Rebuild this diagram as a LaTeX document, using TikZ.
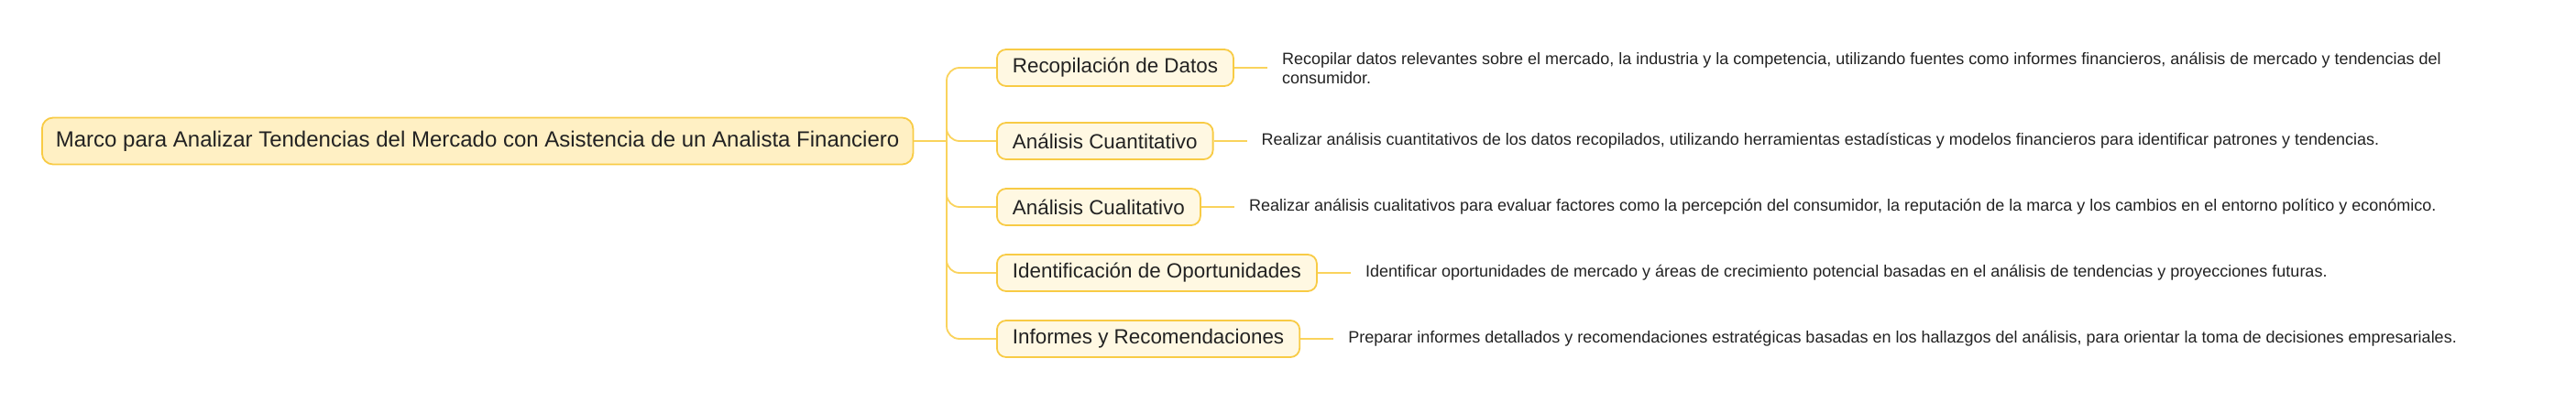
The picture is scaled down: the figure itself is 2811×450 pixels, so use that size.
\documentclass[tikz,border=0pt]{standalone}
\usepackage{fontspec}
\setmainfont{Liberation Sans}
\usetikzlibrary{positioning}

\definecolor{rootfill}{HTML}{FFF0C4}
\definecolor{rootline}{HTML}{F8CB45}
\definecolor{topicfill}{HTML}{FFF8E2}
\definecolor{linkcol}{HTML}{FAD35C}
\definecolor{ink}{HTML}{222222}

\begin{document}
\begin{tikzpicture}[x=1pt, y=-1pt,
    rootbox/.style={draw=rootline, fill=rootfill, rounded corners=12pt, line width=1.8pt,
      inner xsep=15pt, minimum height=51pt, text=ink, font=\fontsize{24}{28}\selectfont},
    topicbox/.style={draw=rootline, fill=topicfill, rounded corners=10pt, line width=1.8pt,
      inner xsep=17pt, minimum height=40pt, text=ink, font=\fontsize{22.4}{26}\selectfont},
    desc/.style={inner xsep=16pt, align=left, text=ink, font=\fontsize{18}{21}\selectfont},
    link/.style={draw=linkcol, line width=1.8pt, rounded corners=14pt}]
  \useasboundingbox (0,0) rectangle (2811,450);

  \def \topx {1087}  % left edge of the topics
  \def \gap {36}     % length of the short link to a description

  \node[rootbox, anchor=west] (root) at (45,154)
    {Marco para Analizar Tendencias del Mercado con Asistencia de un Analista Financiero};
  \coordinate (trunk) at (1033,154);
  \draw[link] (root.east) -- (trunk);

  \foreach \i/\y/\topic/\info in {
      1/74/{Recopilación de Datos}/{Recopilar datos relevantes sobre el mercado, la industria y la competencia, utilizando fuentes como informes financieros, análisis de mercado y tendencias del\\consumidor.},
      2/154/{Análisis Cuantitativo}/{Realizar análisis cuantitativos de los datos recopilados, utilizando herramientas estadísticas y modelos financieros para identificar patrones y tendencias.},
      3/226/{Análisis Cualitativo}/{Realizar análisis cualitativos para evaluar factores como la percepción del consumidor, la reputación de la marca y los cambios en el entorno político y económico.},
      4/298/{Identificación de Oportunidades}/{Identificar oportunidades de mercado y áreas de crecimiento potencial basadas en el análisis de tendencias y proyecciones futuras.},
      5/370/{Informes y Recomendaciones}/{Preparar informes detallados y recomendaciones estratégicas basadas en los hallazgos del análisis, para orientar la toma de decisiones empresariales.}}
  {
    \node[topicbox, anchor=west] (t\i) at (\topx,\y) {\topic};
    \node[desc, anchor=west, right=\gap pt of t\i.east] (d\i) {\info};
    \draw[link] (trunk) |- (t\i.west);
    \draw[link] (t\i.east) -- (d\i.west);
  }
\end{tikzpicture}
\end{document}
